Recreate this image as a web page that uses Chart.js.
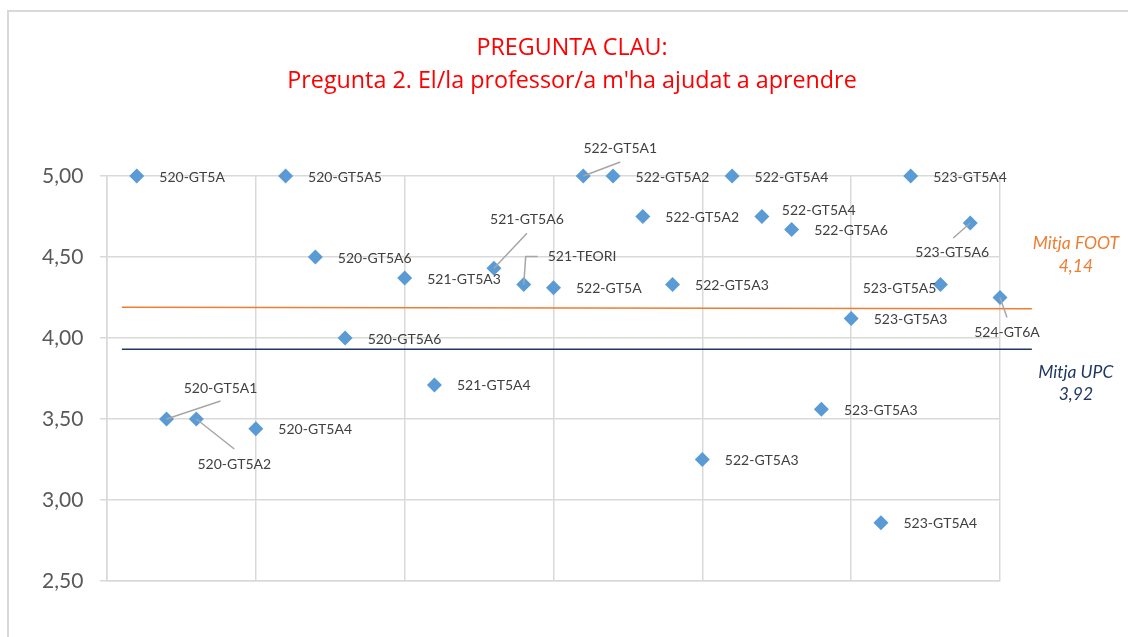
<!DOCTYPE html>
<html>
<head>
<meta charset="utf-8">
<script src="https://cdn.jsdelivr.net/npm/chart.js@4/dist/chart.umd.min.js"></script>
<style>
  html, body { margin: 0; padding: 0; background: #fff; overflow: hidden; }
  #wrap { position: relative; width: 1128px; height: 637px; }
  #frame { position: absolute; left: 7px; top: 10px; width: 1200px; height: 700px; border: 2px solid #d9d9d9; box-sizing: border-box; }
  canvas { position: absolute; left: 0; top: 0; }
</style>
</head>
<body>
<div id="wrap">
  <div id="frame"></div>
  <canvas id="c" width="1128" height="637"></canvas>
</div>
<script>
// ---- data ----
const titleLines = ['PREGUNTA CLAU:', "Pregunta 2. El/la professor/a m'ha ajudat a aprendre"];
const groupLabels = ['520-GT5A','520-GT5A1','520-GT5A2','520-GT5A4','520-GT5A5','520-GT5A6','520-GT5A6',
  '521-GT5A3','521-GT5A4','521-GT5A6','521-TEORI','522-GT5A','522-GT5A1','522-GT5A2','522-GT5A2',
  '522-GT5A3','522-GT5A3','522-GT5A4','522-GT5A4','522-GT5A6','523-GT5A3','523-GT5A3','523-GT5A4',
  '523-GT5A4','523-GT5A5','523-GT5A6','524-GT6A'];
const xPositions = [1,2,3,5,6,7,8,10,11,13,14,15,16,17,18,19,20,21,22,23,24,25,26,27,28,29,30];
const scores = [5.00,3.50,3.50,3.44,5.00,4.50,4.00,4.37,3.71,4.43,4.33,4.31,5.00,5.00,4.75,
  4.33,3.25,5.00,4.75,4.67,3.56,4.12,2.86,5.00,4.33,4.71,4.25];
const meanNames = ['Mitja FOOT', 'Mitja UPC'];
const meanValues = [4.14, 3.92];
const footLineX = [0.5, 31.07];
const footLineY = [4.19, 4.18];
const upcLineX = [0.5, 31.07];
const upcLineY = [3.93, 3.93];
const yTicks = [2.5, 3.0, 3.5, 4.0, 4.5, 5.0];

// ---- label placement (pixel offsets from the point) ----
const defaultPlace = { dx: 22.5, dy: 1, align: 'left' };
const customPlace = {
  1:  { dx: 54, dy: -31, align: 'center', leader: [[0,0],[54,-18]] },
  2:  { dx: 38, dy: 45, align: 'center', leader: [[0,0],[38,30]] },
  9:  { dx: 33, dy: -49, align: 'center', leader: [[0,0],[33,-35]] },
  10: { dx: 24, dy: -28, align: 'left', leader: [[0,0],[2,-28],[14,-28]] },
  12: { dx: 37, dy: -28, align: 'center', leader: [[0,0],[37,-14]] },
  18: { dx: 20, dy: -6, align: 'left' },
  24: { dx: -4, dy: 4, align: 'right' },
  25: { dx: -18, dy: 30, align: 'center', leader: [[0,0],[-17,15]] },
  26: { dx: 7, dy: 35, align: 'center', leader: [[0,0],[7,20]] }
};

const pts = xPositions.map((x, i) => ({ x: x, y: scores[i] }));
const fmt = v => v.toFixed(2).replace('.', ',');

const annot = {
  id: 'annot',
  afterDatasetsDraw(chart) {
    const ctx = chart.ctx;
    const meta = chart.getDatasetMeta(2);
    ctx.save();
    ctx.strokeStyle = '#a6a6a6';
    ctx.lineWidth = 1.5;
    meta.data.forEach((el, i) => {
      const p = customPlace[i];
      if (p && p.leader) {
        ctx.beginPath();
        p.leader.forEach((q, k) => {
          const X = el.x + q[0], Y = el.y + q[1];
          if (k === 0) ctx.moveTo(X, Y); else ctx.lineTo(X, Y);
        });
        ctx.stroke();
      }
    });
    ctx.font = '14px Lato';
    ctx.fillStyle = '#404040';
    ctx.textBaseline = 'middle';
    meta.data.forEach((el, i) => {
      const p = customPlace[i] || defaultPlace;
      ctx.textAlign = p.align;
      ctx.fillText(groupLabels[i], el.x + p.dx, el.y + p.dy);
    });
    const xs = chart.scales.x, ys = chart.scales.y;
    ctx.textAlign = 'center';
    ctx.font = 'italic 17.5px Lato';
    const fx = xs.getPixelForValue(footLineX[1]) + 44;
    const fy = ys.getPixelForValue(footLineY[1]);
    ctx.fillStyle = '#ed7d31';
    ctx.fillText(meanNames[0], fx, fy - 65);
    ctx.fillText(fmt(meanValues[0]), fx, fy - 42);
    const uy = ys.getPixelForValue(upcLineY[1]);
    ctx.fillStyle = '#1f3864';
    ctx.fillText(meanNames[1], fx, uy + 23);
    ctx.fillText(fmt(meanValues[1]), fx, uy + 45);
    ctx.fillStyle = '#ff0000';
    ctx.font = '23.3px "Open Sans"';
    ctx.fillText(titleLines[0], 572, 48);
    ctx.fillText(titleLines[1], 572, 81);
    ctx.restore();
  }
};

new Chart(document.getElementById('c'), {
  data: {
    datasets: [
      { type: 'line', label: meanNames[0], data: footLineX.map((x, i) => ({ x: x, y: footLineY[i] })),
        borderColor: '#ed7d31', borderWidth: 1.5, pointRadius: 0, clip: false, fill: false },
      { type: 'line', label: meanNames[1], data: upcLineX.map((x, i) => ({ x: x, y: upcLineY[i] })),
        borderColor: '#1f3864', borderWidth: 1.5, pointRadius: 0, clip: false, fill: false },
      { type: 'scatter', label: 'Pregunta 2', data: pts, pointStyle: 'rectRot', pointRadius: 7.5,
        pointHoverRadius: 7.5, backgroundColor: '#5b9bd5', borderColor: '#5b9bd5', borderWidth: 0, clip: false }
    ]
  },
  options: {
    responsive: false,
    animation: false,
    events: [],
    layout: { padding: { top: 176, left: 42, right: 128, bottom: 56 } },
    plugins: { legend: { display: false }, title: { display: false }, tooltip: { enabled: false } },
    scales: {
      x: {
        type: 'linear', min: 0, max: 30,
        ticks: { display: false, stepSize: 5 },
        grid: { color: '#d9d9d9', lineWidth: 1.5, drawTicks: false },
        border: { display: true, color: '#d9d9d9', width: 1.5 },
        afterFit(s) { s.height = 0; }
      },
      y: {
        type: 'linear', min: 2.5, max: 5,
        afterBuildTicks(s) { s.ticks = yTicks.map(v => ({ value: v })); },
        ticks: { callback: v => fmt(v), color: '#595959', font: { family: 'Lato', size: 21 }, crossAlign: 'far', padding: 17 },
        grid: { color: '#d9d9d9', lineWidth: 1.5, drawTicks: true, tickLength: 7 },
        border: { display: true, color: '#d9d9d9', width: 1.5 },
        afterFit(s) { s.width = 65; }
      }
    }
  },
  plugins: [annot]
});
</script>
</body>
</html>
